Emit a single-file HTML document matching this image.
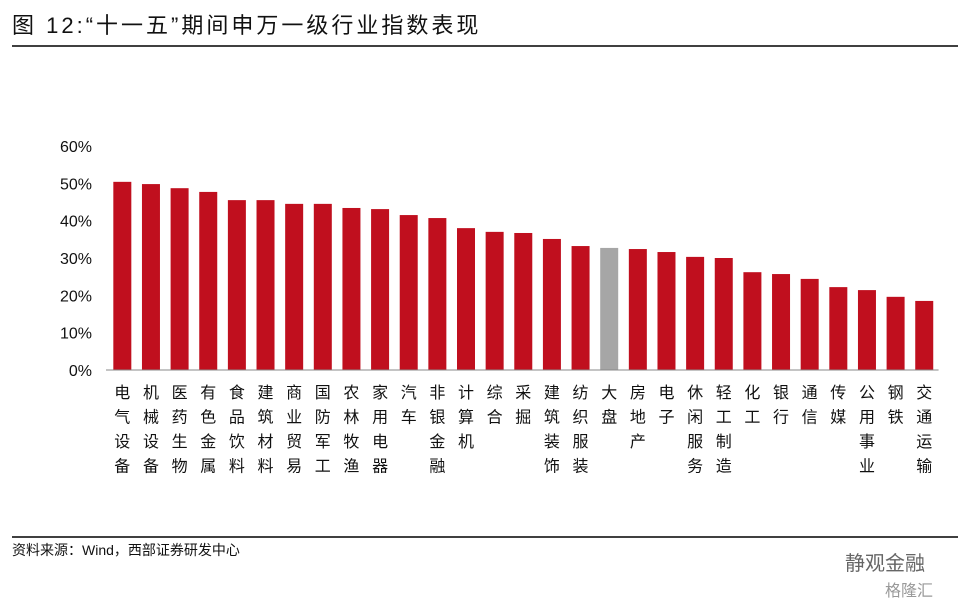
<!DOCTYPE html>
<html><head><meta charset="utf-8"><style>
body{margin:0;background:#fff;width:969px;height:607px;overflow:hidden;font-family:"Liberation Sans","Noto Sans CJK SC",sans-serif;}
</style></head><body>
<svg width="969" height="607" xmlns="http://www.w3.org/2000/svg">
<text x="12" y="33" font-size="22" fill="#111" letter-spacing="3">图 12:“十一五”期间申万一级行业指数表现</text>
<line x1="12" y1="46" x2="958" y2="46" stroke="#000" stroke-width="1.5"/>
<g id="plot"></g>
<line x1="12" y1="537" x2="958" y2="537" stroke="#000" stroke-width="1.5"/>
<text x="12" y="555" font-size="14" fill="#111">资料来源：Wind，西部证券研发中心</text>
<text x="845" y="570" font-size="20" fill="#666">静观金融</text>
<text x="885" y="596" font-size="16" fill="#999">格隆汇</text>
</svg>
<script>
const categories=["电气设备","机械设备","医药生物","有色金属","食品饮料","建筑材料","商业贸易","国防军工","农林牧渔","家用电器","汽车","非银金融","计算机","综合","采掘","建筑装饰","纺织服装","大盘","房地产","电子","休闲服务","轻工制造","化工","银行","通信","传媒","公用事业","钢铁","交通运输"];
const values=[50.4,49.8,48.7,47.7,45.5,45.5,44.5,44.5,43.4,43.1,41.5,40.7,38.0,37.0,36.7,35.1,33.2,32.7,32.4,31.6,30.3,30.0,26.2,25.7,24.4,22.2,21.4,19.6,18.5];
const tickLabels=["0%","10%","20%","30%","40%","50%","60%"];
const tickValues=[0,10,20,30,40,50,60];
const NS="http://www.w3.org/2000/svg";
const g=document.getElementById('plot');
const y0=370,pxPer=224/60;
const yS=v=>y0-v*pxPer;
const x0=108,step=28.64,bw=18;
const xS=i=>x0+step*i+ (step-bw)/2;
function mk(t,a){const e=document.createElementNS(NS,t);for(const k in a)e.setAttribute(k,a[k]);g.appendChild(e);return e;}
tickValues.forEach((v,i)=>{
 const t=mk('text',{x:92,y:yS(v)+6,'font-size':16,'text-anchor':'end',fill:'#111'});
 t.textContent=tickLabels[i];
 
 
});
values.forEach((v,i)=>{
 const r=mk('rect',{x:xS(i),y:yS(v),width:bw,height:v*pxPer,fill:categories[i]==="大盘"?"#a6a6a6":"#c00f1e"});
 
 
 [...categories[i]].forEach((ch,j)=>{
  const t=mk('text',{x:xS(i)+bw/2,y:398+j*24.5,'font-size':16,'text-anchor':'middle',fill:'#111'});
  t.textContent=ch;
  
  
 });
});
const ax=mk('line',{x1:106,y1:y0,x2:x0+step*categories.length,y2:y0,stroke:'#888','stroke-width':1});


</script>
</body></html>
